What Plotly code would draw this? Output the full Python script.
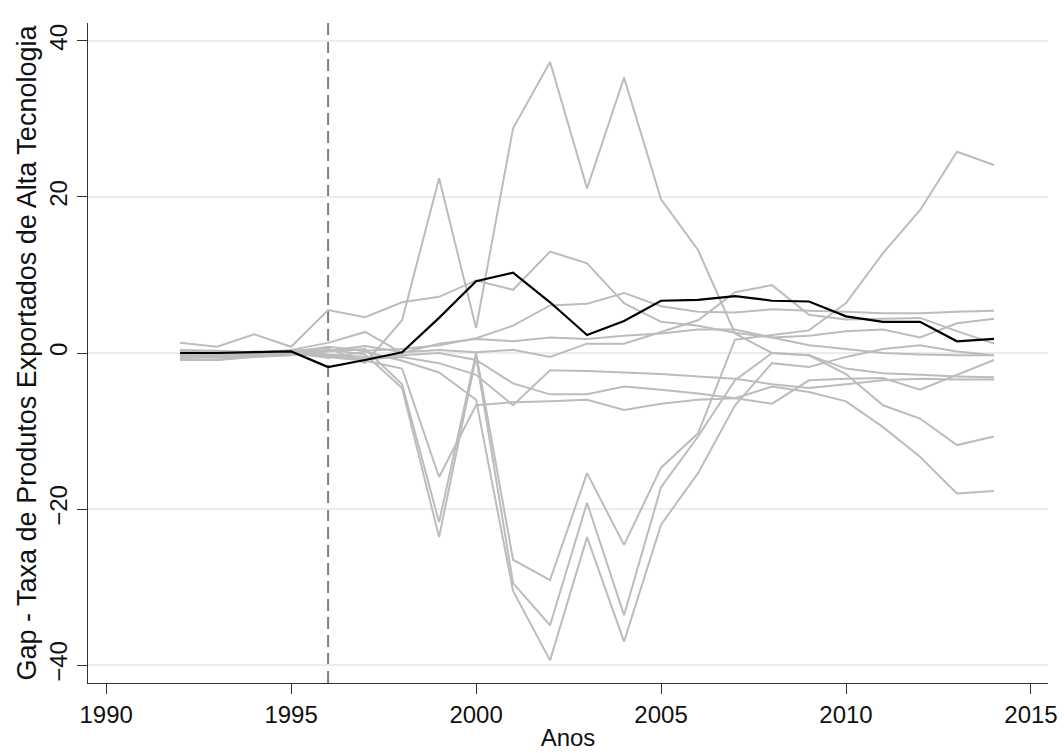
import plotly.graph_objects as go

years = list(range(1992, 2015))

treated = [0.0, 0.0, 0.1, 0.2, -1.8, -0.9, 0.1, 4.5, 9.2, 10.3, 6.5, 2.3, 4.1, 6.7, 6.8, 7.3, 6.7, 6.6, 4.7, 4.0, 4.0, 1.5, 1.8]

placebo_a = [0.4, 0.3, 0.1, 0.3, 0.6, -1.3, 4.2, 22.4, 3.2, 28.8, 37.3, 21.1, 35.3, 19.7, 13.2, 2.5, 0.0, -0.3, -2.0, -2.6, -2.8, -3.0, -3.1]
placebo_b = [1.3, 0.8, 2.4, 0.8, 5.5, 4.6, 6.5, 7.2, 9.3, 8.1, 13.0, 11.5, 6.4, 4.0, 3.5, 2.6, 2.0, 2.2, 2.8, 3.0, 2.0, 3.8, 4.4]
placebo_e = [0.2, 0.0, -0.2, 0.1, 0.8, 0.3, 0.5, 1.0, 1.9, 3.5, 6.1, 6.3, 7.7, 6.0, 5.3, 5.2, 5.6, 5.4, 5.3, 5.1, 5.1, 5.3, 5.4]
placebo_f = [-0.2, -0.3, 0.0, 0.2, 0.3, 0.9, 0.1, 0.4, 0.1, 0.4, -0.5, 1.2, 1.2, 2.7, 4.2, 7.8, 8.7, 4.9, 4.3, 4.4, 4.5, 2.8, 1.2]
placebo_d1 = [-0.5, -0.6, -0.3, -0.2, 0.2, 0.5, -4.0, -21.7, 0.0, -26.5, -29.1, -15.4, -24.6, -14.7, -10.3, 1.7, 2.3, 2.9, 6.4, 12.8, 18.3, 25.8, 24.1]
placebo_d2 = [-0.8, -0.9, -0.5, -0.3, 0.4, -0.2, -4.5, -23.6, -0.5, -29.5, -34.9, -19.2, -33.6, -17.2, -10.7, -3.5, 0.0, -0.3, -2.7, -6.7, -8.4, -11.8, -10.7]
placebo_d3 = [-0.3, -0.4, -0.1, 0.0, -0.6, 0.2, -1.0, -2.5, -6.0, -30.5, -39.4, -23.6, -37.0, -22.0, -15.4, -6.7, -1.3, -1.8, -0.5, 0.5, 1.0, 0.2, -0.3]
placebo_h = [-0.9, -0.9, -0.4, 0.0, -0.5, -1.0, -2.0, -15.9, -6.7, -6.3, -6.2, -6.0, -7.3, -6.5, -6.0, -5.8, -4.3, -5.0, -6.2, -9.5, -13.3, -18.0, -17.7]
placebo_j = [0.1, 0.2, 0.0, 0.3, -0.2, -0.5, -0.3, 0.0, -0.9, -3.9, -5.3, -5.3, -4.3, -4.7, -5.2, -5.8, -6.5, -3.5, -3.3, -3.2, -4.7, -2.8, -0.9]
placebo_k = [0.0, -0.2, 0.2, -0.1, -0.3, -0.8, -0.5, -1.3, -2.8, -6.7, -2.2, -2.3, -2.5, -2.7, -3.0, -3.3, -4.0, -4.5, -4.0, -3.5, -3.3, -3.4, -3.4]
placebo_m = [-0.6, -0.5, 0.0, 0.4, 1.3, 2.7, 0.0, 1.2, 1.8, 1.5, 2.0, 1.8, 2.2, 2.5, 3.0, 3.0, 2.0, 1.0, 0.5, 0.0, -0.2, -0.3, -0.3]

placebos = [placebo_a, placebo_b, placebo_e, placebo_f, placebo_d1, placebo_d2,
            placebo_d3, placebo_h, placebo_j, placebo_k, placebo_m]

x_ticks = [1990, 1995, 2000, 2005, 2010, 2015]
y_ticks = [-40, -20, 0, 20, 40]
treat_year = 1996

GRAY = "#bcbcbc"
FONT = "Liberation Sans, Arial, sans-serif"
FS = 24

fig = go.Figure()
for series in placebos:
    fig.add_trace(go.Scatter(x=years, y=series, mode="lines",
                             line=dict(color=GRAY, width=2), showlegend=False,
                             hoverinfo="skip"))
fig.add_trace(go.Scatter(x=years, y=treated, mode="lines",
                         line=dict(color="black", width=2.2), showlegend=False))

fig.add_shape(type="line", xref="x", yref="paper", x0=treat_year, x1=treat_year,
              y0=0, y1=1, line=dict(color="#7f7f7f", width=2, dash="12px,6px"),
              layer="below")

fig.update_layout(
    width=1064, height=753,
    margin=dict(l=88, r=16, t=23, b=70),
    paper_bgcolor="white", plot_bgcolor="white",
    font=dict(family=FONT, color="#111111", size=FS),
    xaxis=dict(range=[1989.51, 2015.46], tickvals=x_ticks, ticks="outside",
               ticklen=10, tickwidth=1, tickcolor="#333333",
               showline=True, linecolor="#333333", linewidth=1,
               showgrid=False, zeroline=False, automargin=False,
               title=dict(text="Anos", standoff=2, font=dict(size=24)),
               tickfont=dict(size=FS)),
    yaxis=dict(range=[-42.3, 42.3], tickvals=y_ticks, ticks="outside",
               ticklen=10, tickwidth=1, tickcolor="#333333",
               showline=True, linecolor="#333333", linewidth=1,
               showgrid=True, gridcolor="#e6eff0", gridwidth=1.5,
               zeroline=False, tickangle=-90, automargin=False,
               title=dict(text="Gap - Taxa de Produtos Exportados de Alta Tecnologia",
                          standoff=0, font=dict(size=27)),
               tickfont=dict(size=FS)),
)

fig.write_html("out.html")
